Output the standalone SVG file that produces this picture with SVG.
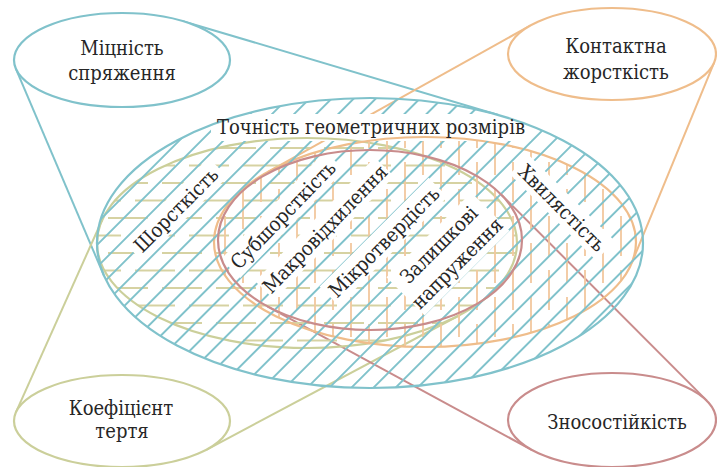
<svg xmlns="http://www.w3.org/2000/svg" width="717" height="467" viewBox="0 0 717 467">
<style>
.t{font-family:'DejaVu Serif Condensed','DejaVu Serif',serif;font-stretch:condensed;font-size:20px;fill:#262626;text-anchor:middle}
.teal{stroke:#80c2cb}
.orng{stroke:#efbd8b}
.olv{stroke:#cbcf9a}
.pink{stroke:#c98c8c}
.out{fill:none;stroke-width:2.2}
.small{fill:#fff;stroke-width:2.2}
.con line{stroke-width:2}
</style>
<defs>
<pattern id="pTeal" patternUnits="userSpaceOnUse" width="15.6" height="20" patternTransform="rotate(45)">
<line x1="7.8" y1="-1" x2="7.8" y2="21" stroke="#80c2cb" stroke-width="2"/>
</pattern>
<pattern id="pOlv" patternUnits="userSpaceOnUse" width="54" height="35">
<line x1="0" y1="8" x2="40" y2="8" stroke="#d6d2a2" stroke-width="2"/>
<line x1="27" y1="25.5" x2="54" y2="25.5" stroke="#d6d2a2" stroke-width="2"/>
<line x1="0" y1="25.5" x2="13" y2="25.5" stroke="#d6d2a2" stroke-width="2"/>
</pattern>
<pattern id="pOrng" patternUnits="userSpaceOnUse" width="36" height="54">
<line x1="9" y1="0" x2="9" y2="40" stroke="#f2c79d" stroke-width="1.8"/>
<line x1="27" y1="27" x2="27" y2="54" stroke="#f2c79d" stroke-width="1.8"/>
<line x1="27" y1="0" x2="27" y2="13" stroke="#f2c79d" stroke-width="1.8"/>
</pattern>
<mask id="holes" maskUnits="userSpaceOnUse" x="0" y="0" width="717" height="467">
<rect x="0" y="0" width="717" height="467" fill="#fff"/>
<g fill="#000">
<rect x="211" y="114" width="320" height="27"/>
<rect x="-60" y="-14" width="120" height="27" transform="translate(176,210) rotate(-45)"/>
<rect x="-75" y="-14" width="150" height="27" transform="translate(283,215) rotate(-46)"/>
<rect x="-86" y="-14" width="172" height="27" transform="translate(325,229) rotate(-46)"/>
<rect x="-77" y="-14" width="154" height="27" transform="translate(384,242) rotate(-45)"/>
<rect x="-60" y="-27" width="120" height="54" transform="translate(448,254) rotate(-45)"/>
<rect x="-61" y="-14" width="122" height="27" transform="translate(562,208) rotate(45)"/>
</g>
</mask>
</defs>
<rect x="0" y="0" width="717" height="467" fill="#fff"/>

<g id="connectors" class="con" mask="url(#holes)">
<line class="teal" x1="15.8" y1="68.6" x2="103.7" y2="275"/>
<line class="teal" x1="183" y1="21.2" x2="503.4" y2="116.5"/>
<line class="orng" x1="714.3" y1="62.2" x2="631.7" y2="263.1"/>
<line class="orng" x1="530.6" y1="25.4" x2="267.6" y2="172.1"/>
<line class="olv" x1="15.9" y1="412.4" x2="102.1" y2="220"/>
<line class="olv" x1="206.3" y1="449.8" x2="459.9" y2="315"/>
<line class="pink" x1="267.3" y1="306.3" x2="532.1" y2="450.1"/>
<line class="pink" x1="500.8" y1="194.1" x2="706.8" y2="400.6"/>
</g>

<g id="node-shorstkist">
<ellipse cx="307" cy="243" rx="210" ry="105" fill="url(#pOlv)" mask="url(#holes)"/>
<ellipse class="olv out" cx="307" cy="243" rx="210" ry="105"/>
</g>
<g id="node-khvylyastist">
<ellipse cx="425" cy="242" rx="211" ry="105" fill="url(#pOrng)" mask="url(#holes)"/>
<ellipse class="orng out" cx="425" cy="242" rx="211" ry="105"/>
</g>
<g id="node-tochnist">
<ellipse cx="370" cy="243" rx="273" ry="145" fill="url(#pTeal)" mask="url(#holes)"/>
<ellipse class="teal out" cx="370" cy="243" rx="273" ry="145"/>
</g>
<g id="node-subshorstkist">
<ellipse class="pink out" cx="370" cy="240" rx="152" ry="90"/>
</g>

<g id="label-tochnist"><text class="t" x="371" y="134">Точність геометричних розмірів</text></g>
<g id="label-shorstkist"><text class="t" transform="translate(176,210) rotate(-45)" y="7">Шорсткість</text></g>
<g id="label-subshorstkist"><text class="t" transform="translate(283,215) rotate(-46)" y="7">Субшорсткість</text></g>
<g id="label-makro"><text class="t" transform="translate(325,229) rotate(-46)" y="7">Макровідхилення</text></g>
<g id="label-mikro"><text class="t" transform="translate(384,242) rotate(-45)" y="7">Мікротвердість</text></g>
<g id="label-zalyshkovi"><text class="t" transform="translate(448,254) rotate(-45)"><tspan x="0" y="-6">Залишкові</tspan><tspan x="0" y="20">напруження</tspan></text></g>
<g id="label-khvylyastist"><text class="t" transform="translate(562,208) rotate(45)" y="7">Хвилястість</text></g>

<g id="node-mitsnist">
<ellipse class="teal small" cx="122" cy="60" rx="108" ry="47"/>
<text class="t" x="122" y="55">Міцність</text>
<text class="t" x="122" y="80">спряження</text>
</g>
<g id="node-kontaktna">
<ellipse class="orng small" cx="612" cy="54" rx="104" ry="46"/>
<text class="t" x="616" y="53">Контактна</text>
<text class="t" x="616" y="79">жорсткість</text>
</g>
<g id="node-koefitsient">
<ellipse class="olv small" cx="122" cy="421" rx="108" ry="46"/>
<text class="t" x="121" y="415">Коефіцієнт</text>
<text class="t" x="122" y="438">тертя</text>
</g>
<g id="node-znosostiikist">
<ellipse class="pink small" cx="612" cy="420" rx="104" ry="47"/>
<text class="t" x="617" y="429">Зносостійкість</text>
</g>
</svg>
